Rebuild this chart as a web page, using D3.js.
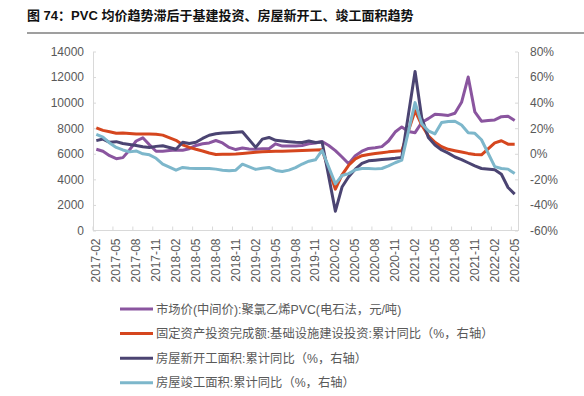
<!DOCTYPE html>
<html>
<head>
<meta charset="utf-8">
<script src="https://cdn.jsdelivr.net/npm/d3@7"></script>
<style>
  body { margin: 0; background: #fff; }
  svg text { font-family: "Liberation Sans", Arial, "Noto Sans CJK SC", sans-serif; }
</style>
</head>
<body>
<div class="chart"></div>
<script>
var width = 584, height = 396

// months 2017-02 .. 2022-05
var months = []
for (var y = 2017; y <= 2022; y++) {
  for (var m = 1; m <= 12; m++) {
    if (y == 2017 && m < 2) continue
    if (y == 2022 && m > 5) continue
    months.push(y + "-" + (m < 10 ? "0" + m : m))
  }
}
var tickLabels = months.filter(function(d, i){ return i % 3 == 0 })

// PVC price, yuan/t (left axis)
var pvcPrice = [
  6350, 6200, 5850, 5620, 5700, 6300, 7000, 7250, 6700, 6200, 6200,
  6250, 6300, 6280, 6400, 6650, 6780, 6850, 7040, 6850, 6500, 6330, 6450,
  6380, 6350, 6400, 6400, 6780, 6600, 6600, 6600, 6650, 6780, 6850, 6960,
  6650, 6250, 5750, 5220, 5850, 6200, 6420, 6480, 6560, 7000, 7700, 8100,
  7750, 7650, 8450, 8750, 9100, 9050, 9000, 9170, 10030, 12000, 9280, 8550,
  8600, 8650, 8900, 8930, 8600
]
// infrastructure investment, cumulative YoY % (right axis)
var infraYoY = [
  20.3, 18.3, 17.2, 16.0, 16.2, 15.8, 15.5, 15.5, 15.4, 15.2, 14.6,
  null, 10.5, 7.0, 5.0, 3.5, 2.2, 0.6, -0.5, -0.4, -0.3, -0.2, 0.2,
  null, 1.2, 1.5, 1.7, 1.9, 2.0, 2.1, 2.3, 2.5, 2.7, 2.9, 3.1,
  null, -27.7, -16.5, -9.0, -4.0, -1.5, -0.5, 0.2, 0.8, 1.5, 2.0, 2.4,
  null, 33.7, 22.5, 14.0, 9.0, 5.5, 3.5, 2.4, 1.4, 0.3, -0.6, -0.8,
  null, 8.5, 10.2, 7.5, 7.5
]
// new housing starts area, cumulative YoY %
var newStartYoY = [
  10.3, 11.5, 9.0, 9.5, 8.0, 7.2, 6.5, 5.5, 5.0, 5.8, 6.3,
  null, 3.5, 9.0, 8.0, 9.0, 12.0, 14.5, 15.6, 16.2, 16.5, 16.8, 17.2,
  null, 5.0, 11.5, 12.8, 10.5, 10.0, 9.5, 9.0, 8.8, 10.0, 8.8, 9.2,
  null, -44.9, -26.0, -18.0, -12.0, -7.5, -5.5, -5.0, -4.5, -4.0, -3.5, -2.8,
  null, 64.3, 28.2, 12.8, 6.9, 3.0, 0.5, -2.5, -4.5, -7.0, -9.5, -11.5,
  null, -12.5, -16.0, -26.4, -31.5
]
// housing completed area, cumulative YoY %
var completedYoY = [
  15.2, 13.0, 8.5, 5.0, 3.0, 1.5, 2.2, 0.0, -0.8, -3.5, -8.0,
  null, -12.8, -10.7, -11.3, -11.5, -11.5, -11.5, -12.0, -12.8, -13.3, -12.8, -8.1,
  null, -12.2, -11.3, -10.7, -13.0, -13.9, -12.8, -10.8, -8.0, -5.8, -4.7, 2.6,
  null, -23.5, -17.0, -15.5, -12.5, -11.5, -11.5, -11.8, -11.5, -9.5, -7.0, -5.0,
  null, 40.0, 23.5, 18.0, 15.6, 24.5, 25.3, 25.5, 22.5, 16.5, 16.0, 11.0,
  null, -10.0, -11.5, -12.0, -15.5
]

var leftTicks = [0, 2000, 4000, 6000, 8000, 10000, 12000, 14000]
var rightTicks = [-60, -40, -20, 0, 20, 40, 60, 80]

var series = [
  {name: "市场价(中间价):聚氯乙烯PVC(电石法，元/吨)", values: pvcPrice, axis: "left", color: "#8a559f"},
  {name: "固定资产投资完成额:基础设施建设投资:累计同比（%，右轴）", values: infraYoY, axis: "right", color: "#d5461e"},
  {name: "房屋新开工面积:累计同比（%，右轴）", values: newStartYoY, axis: "right", color: "#4b4472"},
  {name: "房屋竣工面积:累计同比（%，右轴）", values: completedYoY, axis: "right", color: "#7db7cb"}
]

var svg = d3.select(".chart").append("svg")
    .attr("width", width)
    .attr("height", height)

// title
svg.append("text")
    .attr("x", 27).attr("y", 20)
    .attr("font-size", 13).attr("font-weight", "bold").attr("fill", "#111")
    .text("图 74：PVC 均价趋势滞后于基建投资、房屋新开工、竣工面积趋势")
svg.append("line")
    .attr("x1", 27).attr("x2", 584).attr("y1", 33).attr("y2", 33)
    .attr("stroke", "#7f7f7f").attr("stroke-width", 1.5)

var x = d3.scaleBand().domain(months).range([93, 518])
var yL = d3.scaleLinear().domain([0, 14000]).range([230.5, 51.5])
var yR = d3.scaleLinear().domain([-60, 80]).range([230.5, 51.5])
var axisColor = "#d9d9d9", labelColor = "#595959"

function styleAxis(g) {
  g.select(".domain").attr("stroke", axisColor)
  g.selectAll(".tick line").attr("stroke", axisColor)
  g.selectAll(".tick text").attr("fill", labelColor).attr("font-size", 12)
}

svg.append("g")
    .attr("transform", "translate(93,0)")
    .call(d3.axisLeft(yL).tickValues(leftTicks).tickSizeInner(-3).tickSizeOuter(0).tickPadding(9).tickFormat(d3.format("d")))
    .call(styleAxis)

svg.append("g")
    .attr("transform", "translate(518,0)")
    .call(d3.axisRight(yR).tickValues(rightTicks).tickSizeInner(-3).tickSizeOuter(0).tickPadding(12).tickFormat(function(d){ return d + "%" }))
    .call(styleAxis)

// bottom axis: ticks every 3 months on band edges
var xg = svg.append("g").attr("transform", "translate(0,230.5)")
xg.append("line").attr("x1", 93).attr("x2", 518).attr("stroke", axisColor)
xg.selectAll(".tk").data(tickLabels).enter().append("line")
    .attr("x1", function(d){ return x(d) }).attr("x2", function(d){ return x(d) })
    .attr("y1", 0).attr("y2", -4)
    .attr("stroke", axisColor)
xg.selectAll(".lb").data(tickLabels).enter().append("text")
    .attr("transform", function(d){ return "translate(" + (x(d) + x.bandwidth() / 2 + 4) + ",8) rotate(-90)" })
    .attr("text-anchor", "end")
    .attr("font-size", 12).attr("fill", labelColor)
    .text(function(d){ return d })

var line = d3.line()
    .x(function(d){ return x(d.m) + x.bandwidth() / 2 })
    .y(function(d){ return d.y })

series.forEach(function(s){
  var sc = s.axis == "left" ? yL : yR
  var pts = []
  s.values.forEach(function(v, i){
    if (v != null) pts.push({m: months[i], y: sc(v)})
  })
  svg.append("path")
      .attr("d", line(pts))
      .attr("fill", "none")
      .attr("stroke", s.color)
      .attr("stroke-width", 3)
      .attr("stroke-linejoin", "round")
})

// legend
var lg = svg.append("g").selectAll("g").data(series).enter().append("g")
    .attr("transform", function(d, i){ return "translate(0," + (309 + i * 24.6) + ")" })
lg.append("line")
    .attr("x1", 120).attr("x2", 153)
    .attr("stroke", function(d){ return d.color })
    .attr("stroke-width", 3)
lg.append("text")
    .attr("x", 156).attr("y", 4.5)
    .attr("font-size", 12.3).attr("fill", labelColor)
    .text(function(d){ return d.name })
</script>
</body>
</html>
